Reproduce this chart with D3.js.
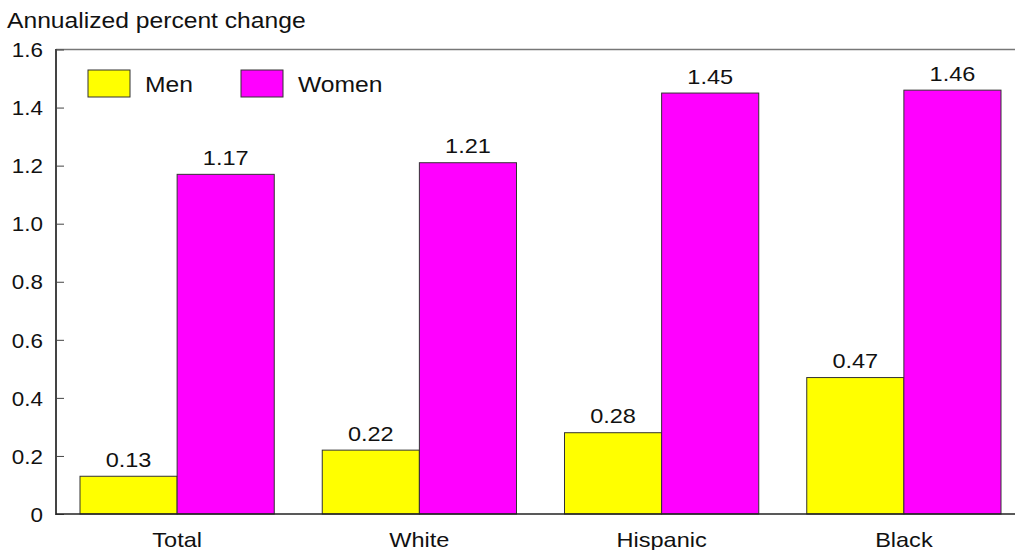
<!DOCTYPE html>
<html><head><meta charset="utf-8">
<script src="https://cdn.jsdelivr.net/npm/d3@7"></script>
<style>html,body{margin:0;padding:0;background:#fff;}svg{display:block;font-family:Arial,"Liberation Sans",sans-serif;}</style>
</head><body>
<svg id="c" width="1015" height="550"></svg>
<script>
const categories = ["Total", "White", "Hispanic", "Black"];
const seriesNames = ["Men", "Women"];
const men = [0.13, 0.22, 0.28, 0.47];
const women = [1.17, 1.21, 1.45, 1.46];
const yTicks = [0, 0.2, 0.4, 0.6, 0.8, 1.0, 1.2, 1.4, 1.6];
const colors = ["#FFFF00", "#FF00FF"];

const svg = d3.select("#c");
const mLeft = 56, mRight = 1025, mTop = 49.5, mBottom = 514;

const y = d3.scaleLinear().domain([0, 1.6]).range([mBottom, mTop]);
const x0 = d3.scaleBand().domain(categories).range([mLeft, mRight]);
const x1 = d3.scaleBand().domain(seriesNames).range([24, x0.bandwidth() - 24]);
const color = d3.scaleOrdinal().domain(seriesNames).range(colors);

const rows = categories.map((c, i) => ({cat: c, vals: [{s: "Men", v: men[i]}, {s: "Women", v: women[i]}]}));

// top frame line
svg.append("line").attr("x1", mLeft).attr("x2", 1015).attr("y1", mTop).attr("y2", mTop)
  .attr("stroke", "#777").attr("stroke-width", 1.5);

// bars
const g = svg.append("g");
const grp = g.selectAll("g.grp").data(rows).join("g").attr("transform", d => `translate(${x0(d.cat)},0)`);
grp.selectAll("rect").data(d => d.vals).join("rect")
  .attr("x", d => x1(d.s)).attr("width", x1.bandwidth())
  .attr("y", d => y(d.v)).attr("height", d => y(0) - y(d.v))
  .attr("fill", d => color(d.s)).attr("stroke", "#333").attr("stroke-width", 1);
grp.selectAll("text").data(d => d.vals).join("text")
  .attr("class", "wide")
  .attr("x", d => x1(d.s) + x1.bandwidth() / 2).attr("y", d => y(d.v) - 9.5)
  .attr("text-anchor", "middle").attr("font-size", 21).attr("fill", "#111")
  .text(d => d.v.toFixed(2));

// y axis
const yAxis = d3.axisRight(y).tickValues(yTicks).tickSize(8).tickFormat(d => d === 0 ? "0" : d.toFixed(1));
const ya = svg.append("g").attr("transform", `translate(${mLeft},0)`).call(yAxis);
ya.select(".domain").remove();
ya.selectAll(".tick line").attr("stroke", "#444").attr("stroke-width", 1);
ya.selectAll(".tick text").attr("class", "wide").attr("x", -13).attr("text-anchor", "end").attr("font-size", 20).attr("fill", "#111").attr("font-family", null).attr("dy", "0.36em");
svg.append("line").attr("x1", mLeft).attr("x2", mLeft).attr("y1", mTop - 0.5).attr("y2", mBottom + 1)
  .attr("stroke", "#444").attr("stroke-width", 2);

// x axis
const xAxis = d3.axisBottom(x0).tickSize(0).tickPadding(14);
const xa = svg.append("g").attr("transform", `translate(0,${mBottom})`).call(xAxis);
xa.select(".domain").remove();
xa.selectAll(".tick text").attr("class", "wide").attr("font-size", 21).attr("fill", "#111").attr("font-family", null).attr("dy", "0.9em");
svg.append("line").attr("x1", mLeft).attr("x2", 1015).attr("y1", mBottom).attr("y2", mBottom)
  .attr("stroke", "#222").attr("stroke-width", 1.5);

// title
svg.append("text").attr("class", "wide").attr("x", 7).attr("y", 28).attr("font-size", 22).attr("fill", "#111").text("Annualized percent change");

// legend
const legendX = [88, 241];
const lg = svg.append("g").selectAll("g").data(seriesNames).join("g")
  .attr("transform", (d, i) => `translate(${legendX[i]},70)`);
lg.append("rect").attr("width", 42).attr("height", 27).attr("fill", d => color(d)).attr("stroke", "#333").attr("stroke-width", 1);
lg.append("text").attr("class", "wide").attr("x", 57).attr("y", 22).attr("font-size", 22).attr("fill", "#111").text(d => d);

// horizontally widen text to match the reference's glyph proportions
svg.selectAll("text.wide").each(function() {
  const len = this.getComputedTextLength();
  d3.select(this).attr("textLength", len * 1.12).attr("lengthAdjust", "spacingAndGlyphs");
});
</script>
</body></html>
